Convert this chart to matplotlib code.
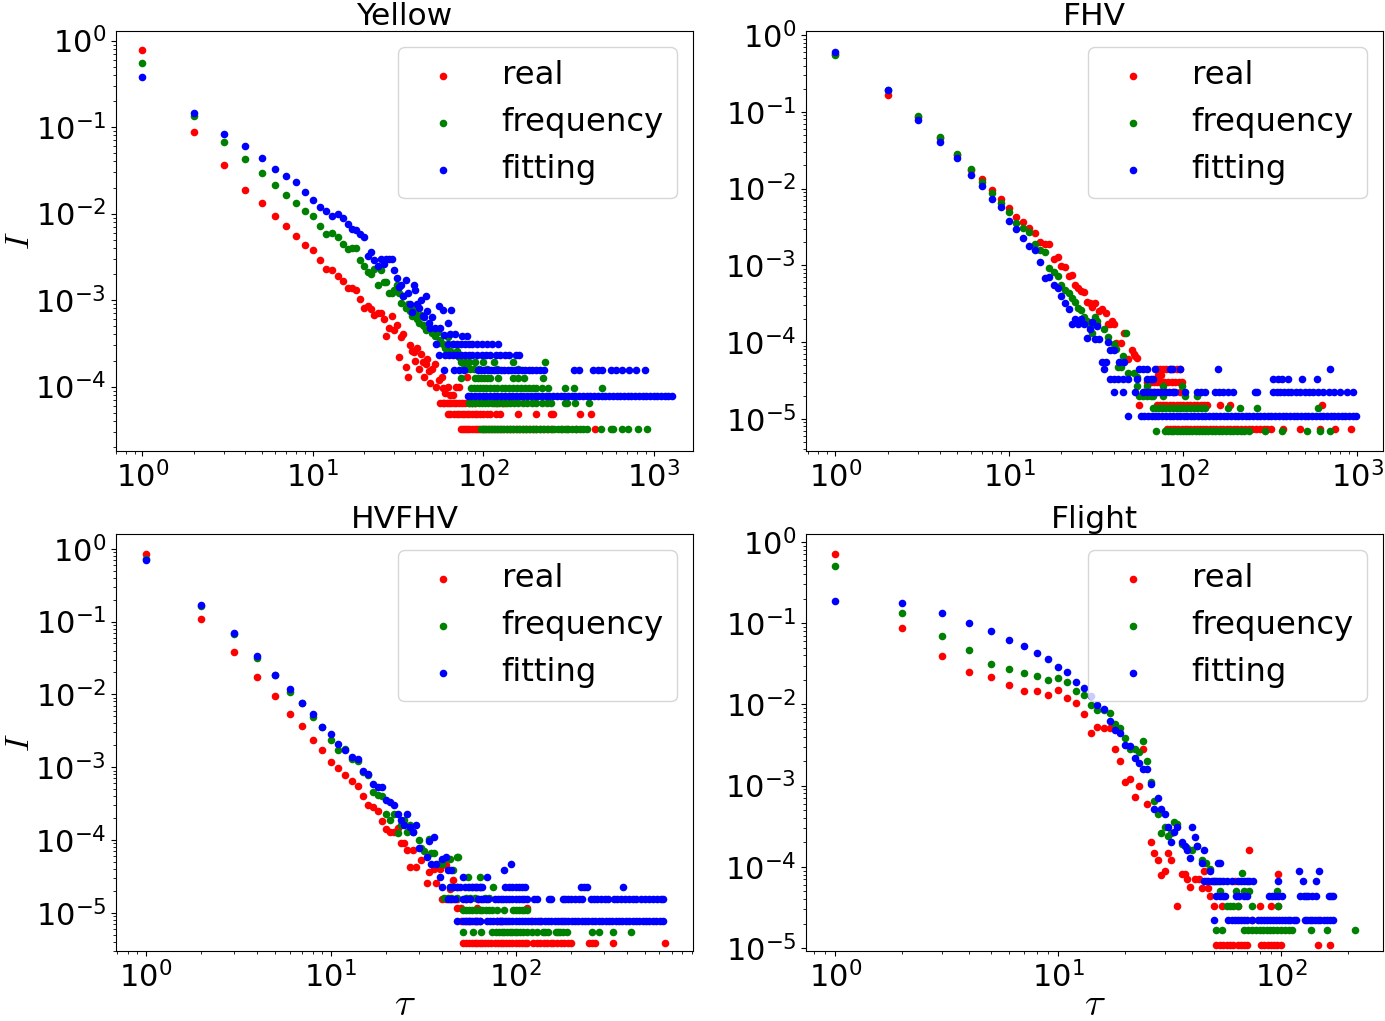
import matplotlib
matplotlib.use('Agg')
import matplotlib.pyplot as plt

plt.rcParams['mathtext.fontset'] = 'cm'
plt.rcParams['font.size'] = 22

# ---------------- data ----------------
# head points are (tau, value); tail rows are (value level, [tau, ...])

# Yellow
yellow_real_head = [(1, 0.78), (2, 0.0875), (3, 0.0366), (4, 0.0186), (5, 0.0131), (6, 0.0094), (7, 0.0071),
                    (8, 0.0055), (9, 0.0043), (10, 0.0038), (11, 0.0029), (12, 0.0023), (13, 0.00225), (14, 0.0019),
                    (15, 0.00166), (16, 0.00137), (17, 0.00137), (18, 0.0013), (19, 0.00104), (20, 0.00081),
                    (21, 0.00085), (22, 0.00078), (23, 0.00068), (24, 0.00071), (25, 0.0007), (26, 0.00061),
                    (27, 0.00038), (28, 0.00047), (29, 0.00065), (30, 0.00045), (31, 0.00052), (32, 0.00022),
                    (33, 0.00037), (34, 0.0004), (35, 0.00017), (36, 0.00013), (37, 0.0003), (38, 0.00026),
                    (39, 0.00025), (40, 0.0002), (41, 0.00028), (42, 0.00016), (43, 0.00024), (44, 0.00019),
                    (45, 0.00013), (46, 0.00018), (47, 0.00021), (48, 0.00015), (49, 0.00011), (50, 0.00016),
                    (52, 0.00018), (53, 0.0001), (55, 0.00012), (57, 0.00013), (58, 9.6e-5), (60, 8.5e-5),
                    (62, 0.0001), (64, 8e-5), (66, 8e-5), (69, 0.0001), (72, 0.0001), (80, 0.00013)]
yellow_real_rows = [
    (6.4e-5, [56, 58, 59, 61, 63, 65, 67, 69, 72, 75, 78, 82, 86, 90, 116, 121, 128, 135]),
    (4.8e-5, [62, 64, 67, 70, 72, 75, 77, 80, 83, 86, 89, 92, 96, 100, 105, 110, 118, 125, 160, 205, 248, 255,
              367, 427]),
    (3.2e-5, [74, 76, 78, 80, 83, 86, 89, 92, 95, 99, 103, 107, 111, 116, 121, 126, 131, 137, 143, 149, 156, 163,
              170, 178, 186, 195, 205, 215, 228, 240, 252, 290, 310, 350, 450]),
]
yellow_freq_head = [(1, 0.55), (2, 0.133), (3, 0.068), (4, 0.043), (5, 0.0297), (6, 0.0215), (7, 0.0165),
                    (8, 0.0134), (9, 0.0106), (10, 0.0093), (11, 0.0072), (12, 0.0058), (13, 0.006), (14, 0.0053),
                    (15, 0.0045), (16, 0.0039), (17, 0.004), (18, 0.004), (19, 0.0029), (20, 0.0025), (21, 0.0021),
                    (22, 0.002), (23, 0.0023), (24, 0.0015), (25, 0.0022), (26, 0.0016), (27, 0.0016), (28, 0.0012),
                    (29, 0.0012), (30, 0.0013), (31, 0.0015), (32, 0.0012), (33, 0.00093), (34, 0.0011),
                    (35, 0.0008), (36, 0.0009), (37, 0.00075), (38, 0.00065), (39, 0.0008), (40, 0.0007),
                    (41, 0.0006), (42, 0.00055), (43, 0.00068), (44, 0.00052), (45, 0.0005), (46, 0.00045),
                    (48, 0.00047), (50, 0.00042), (52, 0.00038), (54, 0.00043), (55, 0.00032), (56, 0.00035),
                    (58, 0.00031), (60, 0.00028), (62, 0.00037), (64, 0.00026), (66, 0.00031), (68, 0.00024),
                    (70, 0.00026), (72, 0.00022)]
yellow_freq_rows = [
    (1.9e-4, [74, 78, 82, 90, 100, 115, 150, 230]),
    (1.6e-4, [76, 80, 84, 88, 95, 105, 120, 160]),
    (1.26e-4, [74, 89, 93, 97, 101, 105, 110, 122, 150, 160, 173, 225]),
    (9.6e-5, [85, 88, 92, 96, 100, 104, 110, 115, 120, 128, 135, 142, 150, 158, 166, 175, 185, 195, 205, 220,
              240, 300, 340, 500]),
    (6.4e-5, [83, 86, 90, 94, 98, 102, 107, 112, 118, 124, 130, 137, 144, 152, 160, 170, 180, 192, 205, 220, 235,
              250, 300, 310, 345, 415]),
    (3.2e-5, [97, 100, 104, 108, 112, 117, 122, 127, 132, 138, 144, 150, 157, 164, 171, 179, 187, 196, 205, 215,
              225, 236, 248, 260, 273, 287, 301, 316, 332, 349, 367, 386, 406, 490, 560, 580, 650, 710, 810, 910]),
]
yellow_fit_head = [(1, 0.38), (2, 0.147), (3, 0.083), (4, 0.060), (5, 0.044), (6, 0.033), (7, 0.027), (8, 0.023),
                   (9, 0.0179), (10, 0.0142), (11, 0.0119), (12, 0.0107), (13, 0.0094), (14, 0.01), (15, 0.0088),
                   (16, 0.0075), (17, 0.0067), (18, 0.0065), (19, 0.0058), (20, 0.0053), (21, 0.0032), (22, 0.0036),
                   (23, 0.0029), (24, 0.0025), (25, 0.003), (26, 0.0026), (27, 0.003), (28, 0.003), (29, 0.003),
                   (30, 0.0022), (31, 0.0018), (32, 0.0014), (33, 0.0015), (34, 0.0011), (35, 0.0017), (36, 0.0012),
                   (37, 0.0009), (38, 0.00072), (39, 0.0015), (40, 0.0013), (41, 0.00089), (42, 0.0008),
                   (43, 0.001), (44, 0.00065), (45, 0.00063), (46, 0.0011), (47, 0.00075), (48, 0.00055),
                   (49, 0.00047), (50, 0.00063), (52, 0.00048), (53, 0.00031), (55, 0.00086), (56, 0.00048),
                   (58, 0.00077), (59, 0.00039), (62, 0.00055), (64, 0.0004), (65, 0.00077), (68, 0.0004),
                   (75, 0.00038), (80, 0.00038)]
yellow_fit_rows = [
    (3.1e-4, [62, 66, 70, 74, 78, 82, 86, 92, 98, 105, 113, 122]),
    (2.3e-4, [55, 60, 63, 66, 70, 74, 78, 82, 86, 92, 98, 104, 110, 118, 126, 134, 142, 155, 163]),
    (1.55e-4, [59, 67, 72, 77, 93, 97, 101, 106, 111, 116, 121, 127, 133, 139, 146, 153, 160, 168, 176, 185, 194,
               204, 214, 228, 340, 366, 440, 470, 500, 560, 600, 650, 720, 790, 890]),
    (7.8e-5, [81, 85, 89, 94, 99, 104, 109, 115, 121, 127, 134, 141, 148, 156, 164, 172, 181, 190, 200, 210, 221,
              232, 244, 257, 270, 284, 299, 314, 330, 347, 365, 384, 404, 425, 447, 470, 494, 520, 547, 575, 605,
              636, 669, 704, 740, 778, 818, 860, 905, 952, 1000, 1050, 1105, 1160, 1220, 1280]),
]

# FHV
fhv_real_head = [(1, 0.57), (2, 0.165), (3, 0.085), (4, 0.045), (5, 0.027), (6, 0.0175), (7, 0.0133), (8, 0.0095),
                 (9, 0.0072), (10, 0.0056), (11, 0.0043), (12, 0.0037), (13, 0.0031), (14, 0.0026), (15, 0.002),
                 (16, 0.0019), (17, 0.0019), (18, 0.0012), (19, 0.00128), (20, 0.00099), (21, 0.00094),
                 (22, 0.00072), (23, 0.00075), (24, 0.00056), (25, 0.0005), (26, 0.00046), (27, 0.00045),
                 (28, 0.00033), (29, 0.00032), (30, 0.00029), (31, 0.00032), (32, 0.00017), (33, 0.00025),
                 (34, 0.00027), (36, 0.00024), (37, 0.00017), (38, 0.00017), (39, 0.00019), (40, 0.00017),
                 (41, 9.7e-5), (44, 9.7e-5), (46, 0.00013), (48, 6e-5), (51, 7.8e-5), (52, 7e-5), (53, 6.6e-5),
                 (54, 6.2e-5), (72, 3.7e-5), (75, 3.7e-5)]
fhv_real_rows = [
    (4.4e-5, [71, 74, 77, 80, 84, 88, 92, 96]),
    (3.0e-5, [62, 65, 68, 71, 74, 78, 82, 86, 90, 95, 99]),
    (2.2e-5, [60, 64, 68, 73, 80, 88, 96]),
    (1.5e-5, [56, 71, 74, 77, 80, 84, 88, 92, 96, 100, 105, 110, 115, 120, 126, 132, 137, 163, 186, 630]),
    (7.4e-6, [81, 84, 87, 90, 94, 98, 102, 106, 110, 115, 120, 125, 130, 136, 142, 148, 155, 162, 170, 178, 187,
              196, 205, 215, 226, 238, 250, 262, 275, 290, 305, 320, 375, 470, 610, 750, 920]),
]
fhv_freq_head = [(1, 0.55), (2, 0.195), (3, 0.088), (4, 0.047), (5, 0.028), (6, 0.018), (7, 0.0123), (8, 0.0087),
                 (9, 0.0064), (10, 0.005), (11, 0.0036), (12, 0.0031), (13, 0.0027), (14, 0.0019), (15, 0.0016),
                 (16, 0.0015), (17, 0.00093), (18, 0.00082), (19, 0.00072), (20, 0.00056), (21, 0.00047),
                 (22, 0.00044), (23, 0.00037), (24, 0.00033), (25, 0.00028), (26, 0.00026), (27, 0.00021),
                 (28, 0.00019), (29, 0.00016), (30, 0.00013), (31, 0.00021), (32, 0.00019), (35, 0.00015),
                 (37, 0.000115), (40, 9.4e-5), (41, 8e-5), (42, 4.7e-5), (44, 4.7e-5), (45, 6.6e-5), (47, 0.00013),
                 (48, 4e-5), (52, 4e-5), (54, 3.5e-5)]
fhv_freq_rows = [
    (2.7e-5, [54, 62, 77, 98]),
    (2.0e-5, [56, 59, 62, 65, 67, 77, 102, 121]),
    (1.37e-5, [67, 70, 73, 76, 79, 83, 87, 91, 95, 99, 104, 109, 115, 121, 127, 133, 181, 212, 265, 600]),
    (6.9e-6, [70, 79, 82, 85, 88, 92, 96, 100, 104, 108, 113, 118, 123, 128, 134, 140, 146, 153, 160, 168, 176,
              185, 194, 204, 214, 225, 240, 295, 370, 515, 610, 700]),
]
fhv_fit_head = [(1, 0.6), (2, 0.19), (3, 0.078), (4, 0.041), (5, 0.025), (6, 0.0148), (7, 0.0108), (8, 0.0074),
                (9, 0.0057), (10, 0.0038), (11, 0.003), (12, 0.0023), (13, 0.0018), (14, 0.0016), (15, 0.0011),
                (16, 0.00069), (17, 0.0007), (18, 0.00055), (19, 0.0005), (20, 0.0004), (21, 0.00032),
                (22, 0.00027), (23, 0.00017), (24, 0.0002), (25, 0.00017), (26, 0.0002), (27, 0.00017),
                (28, 0.000112), (29, 0.00015), (30, 0.00018), (31, 0.00011), (32, 0.00016), (33, 0.00011),
                (34, 5.5e-5), (35, 4.4e-5), (36, 5.5e-5), (37, 0.0001), (38, 7.9e-5), (40, 7.9e-5), (43, 5.5e-5),
                (46, 5.5e-5)]
fhv_fit_rows = [
    (4.4e-5, [56, 59, 62, 69, 84, 86, 96, 158, 700]),
    (3.3e-5, [38, 40, 42, 45, 48, 54, 62, 65, 67, 330, 350, 370, 400, 480, 590]),
    (2.2e-5, [40, 45, 53, 59, 62, 65, 68, 71, 75, 79, 83, 87, 90, 102, 121, 127, 133, 153, 160, 170, 182, 194, 258,
              266, 330, 345, 360, 380, 400, 420, 445, 470, 500, 530, 560, 600, 640, 690, 740, 800, 870, 950]),
    (1.1e-5, [48, 57, 60, 63, 66, 69, 72, 76, 80, 84, 88, 92, 96, 101, 106, 111, 116, 122, 128, 134, 141, 148, 155,
              163, 171, 180, 189, 198, 208, 218, 229, 240, 252, 265, 278, 292, 307, 322, 338, 355, 373, 392, 412,
              432, 454, 477, 500, 525, 552, 580, 609, 640, 672, 705, 741, 778, 817, 858, 900, 950, 990]),
]

# HVFHV
hvfhv_real_head = [(1, 0.85), (2, 0.109), (3, 0.038), (4, 0.0173), (5, 0.0094), (6, 0.0054), (7, 0.0037),
                   (8, 0.0024), (9, 0.0017), (10, 0.00118), (11, 0.00098), (12, 0.00079), (13, 0.00064),
                   (14, 0.00055), (15, 0.0004), (16, 0.0003), (17, 0.00028), (18, 0.00025), (19, 0.00018),
                   (20, 0.00014), (21, 0.00013), (22, 0.00013), (23, 0.000145), (24, 9.1e-5), (25, 9.1e-5),
                   (26, 7.4e-5), (27, 4.3e-5), (28, 7.3e-5), (29, 4.3e-5), (31, 5.3e-5), (33, 2.6e-5), (34, 3.6e-5),
                   (36, 4e-5), (37, 2.6e-5), (39, 4e-5), (42, 4.6e-5), (44, 2.1e-5), (46, 2.8e-5)]
hvfhv_real_rows = [
    (1.56e-5, [40, 42, 44, 46, 48, 54, 63]),
    (1.17e-5, [48, 51, 62, 115]),
    (7.8e-6, [51, 53, 55, 57, 60, 62, 64, 79, 82, 84, 90, 123, 136, 181]),
    (3.9e-6, [52, 54, 56, 58, 60, 62, 64, 66, 68, 71, 74, 77, 80, 83, 86, 89, 92, 96, 100, 104, 108, 112, 115, 125,
              130, 136, 142, 148, 155, 160, 168, 176, 184, 192, 200, 250, 260, 270, 336, 640]),
]
hvfhv_freq_head = [(1, 0.72), (2, 0.165), (3, 0.068), (4, 0.032), (5, 0.0186), (6, 0.0108), (7, 0.0077),
                   (8, 0.0049), (9, 0.0036), (10, 0.0024), (11, 0.0017), (12, 0.0018), (13, 0.0013), (14, 0.0012),
                   (15, 0.00085), (16, 0.00078), (17, 0.00046), (18, 0.00042), (19, 0.0004), (20, 0.00023),
                   (21, 0.00019), (22, 0.00023), (23, 0.000125), (24, 0.00016), (25, 0.00019), (26, 0.00013),
                   (27, 0.00016), (28, 0.00013), (30, 0.0001), (31, 7.8e-5), (32, 7e-5), (34, 0.000105),
                   (35, 6.6e-5), (36, 6.6e-5), (38, 4.7e-5), (40, 4.7e-5), (41, 5.5e-5), (44, 5.5e-5),
                   (46, 3.9e-5), (48, 5.8e-5), (49, 5.8e-5)]
hvfhv_freq_rows = [
    (3.1e-5, [55, 64]),
    (2.3e-5, [44, 46, 48, 55, 58, 61, 64, 76]),
    (1.6e-5, [41, 43, 45, 48, 54, 57, 60, 68, 72]),
    (1.1e-5, [52, 54, 56, 58, 61, 64, 66, 69, 72, 75, 79, 87, 97, 100, 104, 108, 111, 115]),
    (5.5e-6, [52, 59, 65, 75, 78, 81, 84, 87, 90, 93, 96, 99, 102, 106, 110, 115, 123, 130, 140, 145, 150, 165,
              170, 175, 180, 190, 260, 282, 336, 420]),
]
hvfhv_fit_head = [(1, 0.71), (2, 0.17), (3, 0.0695), (4, 0.034), (5, 0.0186), (6, 0.0119), (7, 0.0077),
                  (8, 0.0053), (9, 0.0036), (10, 0.0029), (11, 0.0021), (12, 0.0017), (13, 0.0014), (14, 0.0013),
                  (15, 0.00088), (16, 0.00081), (17, 0.00058), (18, 0.00054), (19, 0.00053), (20, 0.00036),
                  (21, 0.00033), (22, 0.0003), (23, 0.00023), (24, 0.00019), (25, 0.00016), (26, 0.00023),
                  (27, 0.00015), (28, 0.00013), (29, 0.00016), (30, 7.7e-5), (33, 5.8e-5), (34, 9.7e-5),
                  (35, 4.7e-5), (36, 0.00011), (37, 4.7e-5), (39, 3.1e-5), (40, 5.5e-5), (42, 5.8e-5),
                  (43, 3.9e-5), (45, 3.9e-5), (87, 3.9e-5), (95, 4.7e-5)]
hvfhv_fit_rows = [
    (3.1e-5, [52, 70]),
    (2.3e-5, [40, 44, 46, 48, 50, 53, 56, 58, 60, 62, 64, 66, 88, 92, 96, 100, 104, 108, 113, 225, 235, 245, 380]),
    (1.56e-5, [43, 45, 47, 52, 54, 57, 63, 65, 67, 69, 71, 77, 80, 83, 86, 89, 92, 96, 100, 104, 108, 111, 115,
               126, 130, 152, 156, 181, 186, 192, 200, 210, 220, 230, 255, 265, 275, 290, 305, 315, 340, 355, 370,
               390, 410, 430, 450, 475, 500, 525, 555, 585, 610, 630]),
    (7.8e-6, [48, 52, 54, 56, 58, 60, 62, 64, 70, 73, 76, 79, 82, 85, 88, 92, 96, 100, 104, 108, 112, 117, 122, 127,
              132, 138, 144, 150, 156, 163, 170, 177, 185, 193, 201, 210, 219, 228, 238, 248, 259, 270, 282, 294,
              307, 320, 334, 348, 363, 379, 395, 412, 430, 448, 467, 487, 508, 530, 553, 577, 602, 628]),
]

# Flight
flight_real_head = [(1, 0.70), (2, 0.088), (3, 0.039), (4, 0.025), (5, 0.0215), (6, 0.0171), (7, 0.0148),
                    (8, 0.0145), (9, 0.013), (10, 0.015), (11, 0.012), (12, 0.0104), (13, 0.0075), (14, 0.0045),
                    (15, 0.0053), (16, 0.0051), (17, 0.0051), (18, 0.0028), (19, 0.002), (20, 0.0011), (21, 0.0012),
                    (22, 0.00072), (23, 0.00098), (24, 0.0028), (25, 0.0006), (26, 0.0002), (27, 0.00015),
                    (28, 0.00012), (29, 8e-5), (30, 9e-5), (31, 0.00015), (32, 0.00012), (34, 3.3e-5), (36, 8.1e-5),
                    (37, 8.1e-5), (38, 7e-5), (39, 5.6e-5), (41, 7e-5), (43, 7e-5), (44, 5.5e-5), (45, 9e-5),
                    (46, 6.6e-5), (47, 5.5e-5), (48, 4.4e-5), (50, 6.6e-5), (62, 6.6e-5), (72, 0.00016),
                    (97, 8.1e-5), (74, 2.2e-5)]
flight_real_rows = [
    (3.3e-5, [50, 54, 64, 80, 90, 97]),
    (1.1e-5, [51, 53, 55, 57, 59, 61, 64, 66, 68, 70, 81, 84, 87, 90, 93, 96, 100, 146, 166]),
]
flight_freq_head = [(1, 0.51), (2, 0.135), (3, 0.07), (4, 0.047), (5, 0.031), (6, 0.027), (7, 0.024), (8, 0.0226),
                    (9, 0.02), (10, 0.0214), (11, 0.0188), (12, 0.0145), (13, 0.013), (14, 0.0098), (15, 0.0085),
                    (16, 0.0086), (17, 0.0078), (18, 0.0058), (19, 0.0051), (20, 0.0039), (21, 0.0028),
                    (22, 0.0028), (23, 0.0026), (24, 0.0035), (25, 0.002), (26, 0.0011), (27, 0.00064),
                    (28, 0.00045), (29, 0.00026), (30, 0.00031), (31, 0.00024), (32, 0.00026), (33, 0.00036),
                    (34, 0.00034), (36, 0.00019), (38, 0.00017), (40, 0.00016), (42, 0.00018), (44, 0.00012),
                    (46, 0.00011), (48, 9.5e-5), (50, 6.6e-5), (52, 6.6e-5), (67, 8.3e-5)]
flight_freq_rows = [
    (5e-5, [53, 63, 68, 72, 96]),
    (3.3e-5, [57, 59, 61, 64, 74, 97]),
    (1.66e-5, [51, 54, 68, 71, 74, 77, 80, 83, 86, 89, 92, 96, 100, 104, 108, 112, 136, 160, 215]),
]
flight_fit_head = [(1, 0.187), (2, 0.175), (3, 0.135), (4, 0.1), (5, 0.079), (6, 0.062), (7, 0.052), (8, 0.043),
                   (9, 0.036), (10, 0.029), (11, 0.025), (12, 0.019), (13, 0.016), (14, 0.0125), (15, 0.0099),
                   (16, 0.0088), (17, 0.0063), (18, 0.0049), (19, 0.0044), (20, 0.0032), (21, 0.0031), (22, 0.0022),
                   (23, 0.0019), (24, 0.0016), (25, 0.0016), (26, 0.00105), (27, 0.00052), (28, 0.0007),
                   (29, 0.00052), (30, 0.00045), (31, 0.00031), (32, 0.0002), (33, 0.00027), (34, 0.00031),
                   (36, 0.0002), (37, 0.00018), (38, 0.00016), (39, 0.00013), (40, 0.00031), (41, 0.00023),
                   (42, 0.00018), (44, 0.00011), (45, 0.00016), (48, 9e-5), (52, 0.00011), (53, 0.00011),
                   (120, 9e-5), (148, 9e-5)]
flight_fit_rows = [
    (6.6e-5, [45, 47, 49, 51, 53, 55, 57, 60, 64, 66, 68, 70, 72, 75, 97, 125, 143]),
    (4.4e-5, [51, 53, 55, 56, 63, 65, 68, 70, 88, 91, 94, 97, 101, 122, 126, 129, 132, 137, 143, 164, 168, 171]),
    (2.2e-5, [50, 58, 60, 62, 64, 66, 68, 70, 74, 79, 81, 84, 86, 89, 92, 95, 98, 101, 104, 107, 110, 114, 117,
              128, 131, 135, 138, 142, 146, 150, 155, 160, 165, 171]),
]

titles = ['Yellow', 'FHV', 'HVFHV', 'Flight']
series_names = ['real', 'frequency', 'fitting']
series_colors = ['red', 'green', 'blue']


def expand(head, rows):
    xs = [p[0] for p in head]
    ys = [p[1] for p in head]
    for level, row_x in rows:
        xs += row_x
        ys += [level] * len(row_x)
    return xs, ys


panels = [
    [(yellow_real_head, yellow_real_rows), (yellow_freq_head, yellow_freq_rows), (yellow_fit_head, yellow_fit_rows)],
    [(fhv_real_head, fhv_real_rows), (fhv_freq_head, fhv_freq_rows), (fhv_fit_head, fhv_fit_rows)],
    [(hvfhv_real_head, hvfhv_real_rows), (hvfhv_freq_head, hvfhv_freq_rows), (hvfhv_fit_head, hvfhv_fit_rows)],
    [(flight_real_head, flight_real_rows), (flight_freq_head, flight_freq_rows), (flight_fit_head, flight_fit_rows)],
]

# axes boxes in pixels: left, right, top, bottom
W, H = 1385, 1021
boxes = [(116, 693, 31, 451), (806, 1383, 31, 451), (116, 693, 534, 951), (806, 1383, 534, 951)]
xlims = [(0.70, 1700), (0.68, 1410), (0.69, 912), (0.74, 286)]
ylims = [(1.8e-5, 1.29), (3.8e-6, 1.13), (3.0e-6, 1.59), (9.2e-6, 1.25)]

fig = plt.figure(figsize=(W / 100, H / 100), dpi=100)
for i in range(4):
    l, r, t, b = boxes[i]
    ax = fig.add_axes([l / W, 1 - b / H, (r - l) / W, (b - t) / H])
    for j in range(3):
        xs, ys = expand(*panels[i][j])
        ax.scatter(xs, ys, s=30, color=series_colors[j], label=series_names[j], linewidths=0)
    ax.set_xscale('log')
    ax.set_yscale('log')
    ax.set_xlim(*xlims[i])
    ax.set_ylim(*ylims[i])
    ax.set_title(titles[i], fontsize=22.5, pad=4)
    ax.tick_params(labelsize=22)
    ax.legend(loc='upper right', fontsize=23.3)
    if i % 2 == 0:
        ax.set_ylabel(r'$I$', fontsize=24)
        ax.yaxis.set_label_coords(-(l - 36) / (r - l), 0.5)
    if i >= 2:
        ax.set_xlabel(r'$\tau$', fontsize=28)
        ax.xaxis.set_label_coords(0.5, -(985 - b) / (b - t))

fig.savefig('out.png', dpi=100)
